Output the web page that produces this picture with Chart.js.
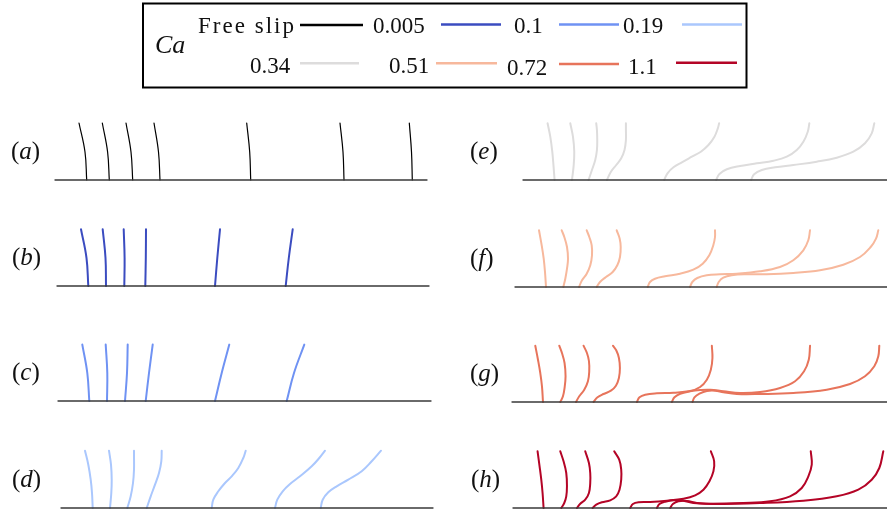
<!DOCTYPE html>
<html>
<head>
<meta charset="utf-8">
<script src="https://cdn.jsdelivr.net/npm/chart.js@4.4.1/dist/chart.umd.min.js"></script>
<style>
  html, body { margin: 0; padding: 0; background: #fff; overflow: hidden; }
  body { width: 887px; height: 513px; position: relative; }
  canvas { position: absolute; }
  #overlay { position: absolute; left: 0; top: 0; pointer-events: none;
             font-family: "Liberation Serif", "DejaVu Serif", "Times New Roman", Times, serif; fill: #111; }
</style>
</head>
<body>
<svg id="overlay" width="887" height="513" xmlns="http://www.w3.org/2000/svg"></svg>
<script>
// ── 資料 ─────────────────────────────────────────────────────────────────
var CA_LABELS = ['Free slip', '0.005', '0.1', '0.19', '0.34', '0.51', '0.72', '1.1'];
var CA_COLORS = ['#000000', '#3b4cc0', '#6f92f3', '#aac7fd', '#dddcdc', '#f7b89c', '#e7745b', '#b40426'];
var PANEL_LETTERS = ['a', 'b', 'c', 'd', 'e', 'f', 'g', 'h'];
var WALL_LENGTH = [372, 372, 373, 372, 364.3, 372, 375.3, 374.3];

// each curve: [distance along wall, height above wall]
var panelA = [
    [[31.7, 0], [30, 28], [24, 57]],
    [[54.3, 0], [52.6, 28], [47.3, 57]],
    [[77.7, 0], [76, 28], [71, 57]],
    [[105, 0], [103.5, 28], [99, 57]],
    [[195.7, 0], [194.7, 28], [191.7, 57]],
    [[289, 0], [288, 28], [285, 57]],
    [[357.3, 0], [356.5, 28], [354.3, 57]]
];
var panelB = [
    [[31.3, 0], [29.5, 28], [24, 56.7]],
    [[49, 0], [48.5, 28], [45.7, 56.7]],
    [[67.3, 0], [67.6, 28], [66.7, 56.7]],
    [[88.3, 0], [88.8, 28], [89, 56.7]],
    [[158, 0], [160.3, 28], [163, 56.7]],
    [[228.7, 0], [231.8, 28], [235.7, 56.7]]
];
var panelC = [
    [[31.3, 0], [29.3, 28], [24.3, 56.4]],
    [[49, 0], [49.3, 28], [47.7, 56.4]],
    [[67, 0], [69, 28], [69.7, 56.4]],
    [[87.7, 0], [91, 28], [94.7, 56.4]],
    [[157, 0], [163.7, 28], [171.3, 56.4]],
    [[228.7, 0], [236, 28], [246.3, 56.4]]
];
var panelD = [
    [[31.7, 0], [31, 15], [29.7, 28.3], [27.3, 43.3], [24, 57.3]],
    [[49, 0], [50.3, 15], [50.7, 28.3], [50, 43.3], [48, 57.3]],
    [[66.3, 0], [69.7, 11.7], [72, 25], [73, 38.3], [73, 51.7], [73, 57.3]],
    [[85.7, 0], [89.7, 11.7], [94, 23.3], [98, 35], [100.3, 46.7], [100.7, 57.3]],
    [[150.7, 0], [152.3, 8.3], [157.3, 16.7], [164, 25], [170.7, 31.7], [177.3, 40], [182.3, 50], [184.7, 57.3]],
    [[214, 0], [216.3, 8.3], [221.7, 16.7], [229, 24], [239, 31.7], [250.7, 41.7], [258.3, 50], [264, 57.3]],
    [[259.7, 0], [261.7, 8.3], [267.3, 15.7], [275.7, 21.7], [287.3, 28.3], [300.7, 36.7], [310.7, 46.7], [320, 57.3]]
];
var panelE = [
    [[31.6, 0], [30.6, 13.3], [29.3, 28.3], [27.3, 43.3], [24.6, 56.7]],
    [[49, 0], [50.6, 13.3], [51.3, 28.3], [50, 43.3], [47.3, 56.7]],
    [[65.6, 0], [69, 10], [72.3, 20], [74, 30], [74.3, 40], [74, 50], [73.3, 56.7]],
    [[84, 0], [88, 8.3], [93.3, 15], [98.3, 21.7], [101.6, 30], [103, 40], [103, 50], [103, 56.7]],
    [[141.3, 0], [144.6, 6.7], [150.6, 12.7], [159, 17.7], [169, 23.3], [178, 28.3], [185.6, 35], [191.6, 43.3], [195, 51.7], [196.3, 56.7]],
    [[193.3, 0], [196.6, 6], [204, 10.7], [217.3, 14], [234, 16.7], [250.6, 19.3], [264, 23.3], [274, 30], [280.6, 38.3], [285, 48.3], [286.6, 56.7]],
    [[228.3, 0], [231.3, 5.7], [239, 10], [252.3, 12.7], [270.6, 15], [294, 18.3], [314, 22.3], [330.6, 28.3], [342.3, 36.7], [349, 46.7], [351.6, 56.7]]
];
var panelF = [
    [[31, 0], [30, 15], [28.7, 28.3], [26.7, 41.7], [24, 56.7]],
    [[48.3, 0], [50.3, 8.3], [52, 18.3], [53, 28.3], [52, 40], [49.3, 50], [46.7, 56.7]],
    [[64, 0], [67, 6.7], [71.7, 13.3], [75.3, 21.7], [77, 31.7], [76.7, 41.7], [74.3, 50], [71.7, 56.7]],
    [[81.7, 0], [85, 5], [91, 10], [97.7, 15], [102.3, 21.7], [105, 30], [105.7, 40], [104.7, 48.3], [101.7, 56.7]],
    [[132.7, 0], [135, 5], [140, 8.3], [150, 10.7], [165, 13.3], [178.3, 17.3], [187.7, 23.3], [194.3, 31.7], [198.3, 41.7], [200, 50], [200, 56.7]],
    [[175, 0], [177.3, 5], [182.3, 9], [191.7, 11.7], [205, 12.7], [221.7, 13.3], [245, 15.7], [265, 20], [278.3, 26.7], [288.3, 36.7], [293.3, 46.7], [295, 56.7]],
    [[201.7, 0], [203.7, 5], [208.3, 9.3], [216.7, 11.7], [231.7, 12.7], [251.7, 12.7], [278.3, 14], [305, 16.7], [328.3, 22.3], [345, 30], [355.7, 40], [361, 48.3], [363.3, 56.7]]
];
var panelG = [
    [[31, 0], [30, 15.7], [28.3, 29], [26, 42.3], [23.3, 56.3]],
    [[48.3, 0], [51, 5.7], [52.6, 14], [53.6, 25.7], [52.6, 39], [50, 49], [47.3, 56.3]],
    [[64, 0], [67.3, 5.7], [72.3, 12.3], [76, 20.7], [77.3, 30.7], [77, 41], [75, 49], [71.6, 56.3]],
    [[81.6, 0], [85.6, 4.7], [91.6, 8], [99, 11.3], [104, 16.3], [107, 24], [108, 34], [107, 44], [104.3, 51.7], [101, 56.3]],
    [[125, 0], [127.6, 4.7], [133.3, 7.3], [145, 8.7], [161.6, 9.3], [178.3, 11], [188.3, 15], [195, 22.3], [199, 32.3], [200.6, 44], [200, 56.3]],
    [[160, 0], [162.6, 4.7], [168.3, 8.3], [178.3, 10.7], [188.3, 12], [198.3, 12.3], [211.6, 10.7], [228.3, 9], [248.3, 10], [268.3, 14], [283.3, 20.7], [292.3, 30.7], [297, 42.3], [298.3, 56.3]],
    [[180.6, 0], [182.6, 4.7], [187.6, 8.3], [195, 11], [203.3, 11.3], [211.6, 9.7], [225, 8], [248.3, 8], [281.6, 9], [315, 12.3], [338.3, 18], [353.3, 25.7], [362.6, 35.7], [366.6, 45.7], [367.6, 56.3]]
];
var panelH = [
    [[30.6, 0], [29.6, 15], [28.3, 28.3], [26.6, 41.7], [24.6, 56.7]],
    [[48.3, 0], [51.3, 5], [53.3, 11.7], [54, 21.7], [53.3, 35], [50.6, 46.7], [47.3, 56.7]],
    [[64, 0], [67.3, 4.3], [72.3, 8.3], [76, 15], [77.3, 25], [77.3, 35], [76, 45], [72.3, 56.7]],
    [[79.6, 0], [83.3, 3.3], [89, 5.7], [97.3, 7.7], [103.3, 11.7], [106.6, 18.3], [108.3, 28.3], [108.3, 38.3], [106.3, 48.3], [101.3, 56.7]],
    [[117.3, 0], [120, 4], [125.6, 5.7], [137.3, 6], [154, 7.3], [170.6, 9.3], [182.3, 12.7], [190.6, 18.3], [196.6, 26.7], [200.6, 36.7], [201.3, 46.7], [198, 56.7]],
    [[144, 0], [146.6, 4], [152.3, 6.3], [162.3, 8], [170.6, 7.3], [180.6, 5], [197.3, 4.3], [230.6, 5], [257.3, 6.7], [277.3, 11.7], [289, 20], [295.6, 31.7], [299, 43.3], [298, 56.7]],
    [[157.3, 0], [160, 4], [165.6, 6.7], [174, 7], [184, 5], [200.6, 4], [247.3, 5], [290.6, 7.3], [324, 11.7], [345.6, 18.3], [359, 28.3], [366.6, 40], [370.6, 56.7]]
];
var PANELS = [panelA, panelB, panelC, panelD, panelE, panelF, panelG, panelH];

// ── 版面 ─────────────────────────────────────────────────────────────────
// wall left edge / wall y on page, panel label x
var LAYOUT = [
    { x0: 55,    wallY: 179.5, lx: 11 },
    { x0: 57,    wallY: 285.7, lx: 12 },
    { x0: 58,    wallY: 400.7, lx: 12 },
    { x0: 61,    wallY: 508.3, lx: 12 },
    { x0: 522.7, wallY: 180,   lx: 470 },
    { x0: 515,   wallY: 286.7, lx: 470 },
    { x0: 511.7, wallY: 402.3, lx: 470 },
    { x0: 512.7, wallY: 508.3, lx: 471 }
];
var Y_MIN = -3, Y_MAX = 60, PAD = 4;
var SVG_NS = 'http://www.w3.org/2000/svg';
var svg = document.getElementById('overlay');

function svgEl(tag, attrs, text) {
    var e = document.createElementNS(SVG_NS, tag);
    for (var k in attrs) e.setAttribute(k, attrs[k]);
    if (text != null) e.textContent = text;
    svg.appendChild(e);
    return e;
}

// ── 圖例 ─────────────────────────────────────────────────────────────────
function buildLegend() {
    svgEl('rect', { x: 143, y: 3.5, width: 603.5, height: 84, fill: 'none', stroke: '#000', 'stroke-width': 2 });
    // text: [left, baseline]; swatch: [x1, x2, y]
    var textPos = [[198, 33], [373, 33], [514, 33], [623, 33], [250, 73], [389, 73], [507, 75], [628, 74]];
    var linePos = [[300, 363, 25], [441, 501, 24.5], [559, 619, 24.5], [682, 742, 24.5],
                   [300, 359, 63.3], [436, 497, 63.3], [559, 619, 64], [676, 737, 62.7]];
    CA_LABELS.forEach(function (lab, i) {
        var t = svgEl('text', { x: textPos[i][0], y: textPos[i][1], 'font-size': 23 }, lab);
        if (i === 0) t.setAttribute('textLength', 96);
        svgEl('line', { x1: linePos[i][0], x2: linePos[i][1], y1: linePos[i][2], y2: linePos[i][2],
                        stroke: CA_COLORS[i], 'stroke-width': 2.6 });
    });
    svgEl('text', { x: 155, y: 53, 'font-size': 26, 'font-style': 'italic' }, 'Ca');
}

// ── 面板 ─────────────────────────────────────────────────────────────────
function buildPanel(i) {
    var lay = LAYOUT[i], L = WALL_LENGTH[i];
    var color = CA_COLORS[i];
    var width = i === 0 ? 1.2 : 2;

    var canvas = document.createElement('canvas');
    canvas.width = Math.round(L + 2 * PAD);
    canvas.height = (Y_MAX - Y_MIN) + 2 * PAD;
    canvas.style.left = (lay.x0 - PAD) + 'px';
    canvas.style.top = (lay.wallY - Y_MAX - PAD) + 'px';
    document.body.insertBefore(canvas, svg);

    var datasets = [{
        data: [{ x: 0, y: 0 }, { x: L, y: 0 }],
        borderColor: '#3a3a3a',
        borderWidth: 1.3,
        tension: 0
    }];
    PANELS[i].forEach(function (curve) {
        datasets.push({
            data: curve.map(function (p) { return { x: p[0], y: p[1] }; }),
            borderColor: color,
            borderWidth: width,
            tension: 0.4
        });
    });

    new Chart(canvas.getContext('2d'), {
        type: 'scatter',
        data: { datasets: datasets },
        options: {
            responsive: false,
            animation: false,
            showLine: true,
            layout: { padding: PAD },
            elements: { point: { radius: 0, hoverRadius: 0 }, line: { borderCapStyle: 'round', borderJoinStyle: 'round', fill: false } },
            datasets: { scatter: { clip: false } },
            plugins: { legend: { display: false }, tooltip: { enabled: false } },
            scales: {
                x: { type: 'linear', min: 0, max: L, display: false },
                y: { type: 'linear', min: Y_MIN, max: Y_MAX, display: false }
            }
        }
    });

    // panel label "(a)" … baseline ~21px above the wall
    var t = svgEl('text', { x: lay.lx, y: lay.wallY - 21, 'font-size': 25 });
    t.appendChild(document.createTextNode('('));
    var it = document.createElementNS(SVG_NS, 'tspan');
    it.setAttribute('font-style', 'italic');
    it.textContent = PANEL_LETTERS[i];
    t.appendChild(it);
    t.appendChild(document.createTextNode(')'));
}

buildLegend();
for (var i = 0; i < 8; i++) buildPanel(i);
</script>
</body>
</html>
